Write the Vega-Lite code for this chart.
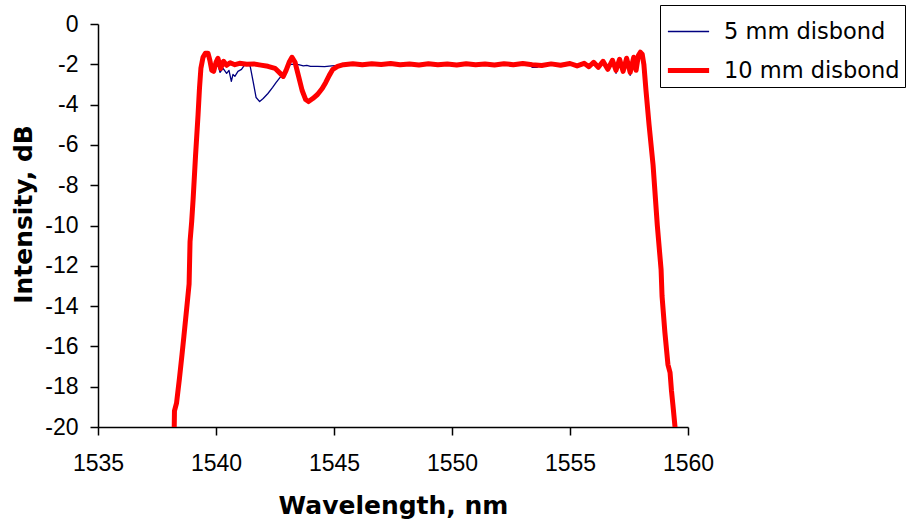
{
  "$schema": "https://vega.github.io/schema/vega-lite/v6.json",
  "width": 590,
  "height": 403,
  "autosize": "none",
  "padding": {"left": 98, "top": 24, "right": 221, "bottom": 104},
  "background": "white",
  "config": {
    "view": {"stroke": null},
    "axis": {
      "grid": false,
      "labelFlush": false,
      "domainColor": "black",
      "domainWidth": 1.5,
      "tickColor": "black",
      "tickWidth": 1.5,
      "tickSize": 8,
      "labelFont": "Liberation Sans",
      "labelFontSize": 23,
      "labelColor": "black",
      "titleFont": "DejaVu Sans",
      "titleFontSize": 25,
      "titleFontWeight": "bold",
      "titleColor": "black"
    }
  },
  "data": {
    "values": [
      {"s": "5 mm disbond", "x": 1538.23, "y": -20},
      {"s": "5 mm disbond", "x": 1538.24, "y": -19.2},
      {"s": "5 mm disbond", "x": 1538.33, "y": -18.8},
      {"s": "5 mm disbond", "x": 1538.45, "y": -17.6},
      {"s": "5 mm disbond", "x": 1538.56, "y": -16.4},
      {"s": "5 mm disbond", "x": 1538.64, "y": -15.5},
      {"s": "5 mm disbond", "x": 1538.76, "y": -14.1},
      {"s": "5 mm disbond", "x": 1538.86, "y": -12.9},
      {"s": "5 mm disbond", "x": 1538.9, "y": -10.8},
      {"s": "5 mm disbond", "x": 1538.97, "y": -9.8},
      {"s": "5 mm disbond", "x": 1539.03, "y": -8.7},
      {"s": "5 mm disbond", "x": 1539.13, "y": -6.6},
      {"s": "5 mm disbond", "x": 1539.24, "y": -4.5},
      {"s": "5 mm disbond", "x": 1539.3, "y": -3.2},
      {"s": "5 mm disbond", "x": 1539.36, "y": -2.2},
      {"s": "5 mm disbond", "x": 1539.45, "y": -1.65},
      {"s": "5 mm disbond", "x": 1539.55, "y": -1.45},
      {"s": "5 mm disbond", "x": 1539.66, "y": -1.45},
      {"s": "5 mm disbond", "x": 1539.74, "y": -1.8},
      {"s": "5 mm disbond", "x": 1539.82, "y": -2.2},
      {"s": "5 mm disbond", "x": 1539.95, "y": -2.0},
      {"s": "5 mm disbond", "x": 1540.1, "y": -2.1},
      {"s": "5 mm disbond", "x": 1540.17, "y": -2.4},
      {"s": "5 mm disbond", "x": 1540.3, "y": -2.2},
      {"s": "5 mm disbond", "x": 1540.45, "y": -2.45},
      {"s": "5 mm disbond", "x": 1540.55, "y": -2.3},
      {"s": "5 mm disbond", "x": 1540.65, "y": -2.85},
      {"s": "5 mm disbond", "x": 1540.72, "y": -2.5},
      {"s": "5 mm disbond", "x": 1540.8, "y": -2.6},
      {"s": "5 mm disbond", "x": 1540.93, "y": -2.35},
      {"s": "5 mm disbond", "x": 1541.08, "y": -2.25},
      {"s": "5 mm disbond", "x": 1541.2, "y": -2.05},
      {"s": "5 mm disbond", "x": 1541.33, "y": -1.95},
      {"s": "5 mm disbond", "x": 1541.45, "y": -2.1},
      {"s": "5 mm disbond", "x": 1541.58, "y": -2.9},
      {"s": "5 mm disbond", "x": 1541.7, "y": -3.65},
      {"s": "5 mm disbond", "x": 1541.85, "y": -3.85},
      {"s": "5 mm disbond", "x": 1542.0, "y": -3.7},
      {"s": "5 mm disbond", "x": 1542.2, "y": -3.45},
      {"s": "5 mm disbond", "x": 1542.4, "y": -3.15},
      {"s": "5 mm disbond", "x": 1542.55, "y": -2.9},
      {"s": "5 mm disbond", "x": 1542.75, "y": -2.6},
      {"s": "5 mm disbond", "x": 1542.95, "y": -2.3},
      {"s": "5 mm disbond", "x": 1543.15, "y": -2.0},
      {"s": "5 mm disbond", "x": 1543.35, "y": -2.0},
      {"s": "5 mm disbond", "x": 1543.5, "y": -2.02},
      {"s": "5 mm disbond", "x": 1543.7, "y": -2.08},
      {"s": "5 mm disbond", "x": 1543.85, "y": -2.05},
      {"s": "5 mm disbond", "x": 1544.0, "y": -2.1},
      {"s": "5 mm disbond", "x": 1544.3, "y": -2.1},
      {"s": "5 mm disbond", "x": 1544.6, "y": -2.12},
      {"s": "5 mm disbond", "x": 1544.9, "y": -2.08},
      {"s": "5 mm disbond", "x": 1545.2, "y": -2.05},
      {"s": "5 mm disbond", "x": 1545.6, "y": -2.0},
      {"s": "5 mm disbond", "x": 1547.0, "y": -2.0},
      {"s": "5 mm disbond", "x": 1549.0, "y": -2.0},
      {"s": "5 mm disbond", "x": 1551.0, "y": -2.0},
      {"s": "5 mm disbond", "x": 1553.2, "y": -2.0},
      {"s": "5 mm disbond", "x": 1553.4, "y": -2.15},
      {"s": "5 mm disbond", "x": 1553.6, "y": -2.15},
      {"s": "5 mm disbond", "x": 1553.75, "y": -2.05},
      {"s": "5 mm disbond", "x": 1555.0, "y": -1.96},
      {"s": "5 mm disbond", "x": 1555.3, "y": -2.08},
      {"s": "5 mm disbond", "x": 1555.6, "y": -1.95},
      {"s": "5 mm disbond", "x": 1555.8, "y": -2.12},
      {"s": "5 mm disbond", "x": 1556.0, "y": -1.9},
      {"s": "5 mm disbond", "x": 1556.2, "y": -2.15},
      {"s": "5 mm disbond", "x": 1556.4, "y": -1.85},
      {"s": "5 mm disbond", "x": 1556.6, "y": -2.3},
      {"s": "5 mm disbond", "x": 1556.8, "y": -1.8},
      {"s": "5 mm disbond", "x": 1556.95, "y": -2.45},
      {"s": "5 mm disbond", "x": 1557.1, "y": -1.75},
      {"s": "5 mm disbond", "x": 1557.25, "y": -2.35},
      {"s": "5 mm disbond", "x": 1557.4, "y": -1.7},
      {"s": "5 mm disbond", "x": 1557.55, "y": -2.55},
      {"s": "5 mm disbond", "x": 1557.7, "y": -1.65},
      {"s": "5 mm disbond", "x": 1557.8, "y": -2.3},
      {"s": "5 mm disbond", "x": 1557.9, "y": -1.55},
      {"s": "5 mm disbond", "x": 1557.98, "y": -1.4},
      {"s": "5 mm disbond", "x": 1558.06, "y": -1.5},
      {"s": "5 mm disbond", "x": 1558.13, "y": -2.0},
      {"s": "5 mm disbond", "x": 1558.22, "y": -3.3},
      {"s": "5 mm disbond", "x": 1558.35, "y": -5.0},
      {"s": "5 mm disbond", "x": 1558.52, "y": -7.0},
      {"s": "5 mm disbond", "x": 1558.7, "y": -10.0},
      {"s": "5 mm disbond", "x": 1558.86, "y": -12.2},
      {"s": "5 mm disbond", "x": 1558.9, "y": -13.5},
      {"s": "5 mm disbond", "x": 1559.02, "y": -15.3},
      {"s": "5 mm disbond", "x": 1559.15, "y": -16.9},
      {"s": "5 mm disbond", "x": 1559.24, "y": -17.3},
      {"s": "5 mm disbond", "x": 1559.3, "y": -18.2},
      {"s": "5 mm disbond", "x": 1559.36, "y": -18.9},
      {"s": "5 mm disbond", "x": 1559.45, "y": -20},

      {"s": "10 mm disbond", "x": 1538.23, "y": -20},
      {"s": "10 mm disbond", "x": 1538.24, "y": -19.2},
      {"s": "10 mm disbond", "x": 1538.33, "y": -18.8},
      {"s": "10 mm disbond", "x": 1538.45, "y": -17.6},
      {"s": "10 mm disbond", "x": 1538.56, "y": -16.4},
      {"s": "10 mm disbond", "x": 1538.64, "y": -15.5},
      {"s": "10 mm disbond", "x": 1538.76, "y": -14.1},
      {"s": "10 mm disbond", "x": 1538.86, "y": -12.9},
      {"s": "10 mm disbond", "x": 1538.9, "y": -10.8},
      {"s": "10 mm disbond", "x": 1538.97, "y": -9.8},
      {"s": "10 mm disbond", "x": 1539.03, "y": -8.7},
      {"s": "10 mm disbond", "x": 1539.13, "y": -6.6},
      {"s": "10 mm disbond", "x": 1539.24, "y": -4.5},
      {"s": "10 mm disbond", "x": 1539.3, "y": -3.2},
      {"s": "10 mm disbond", "x": 1539.36, "y": -2.2},
      {"s": "10 mm disbond", "x": 1539.45, "y": -1.65},
      {"s": "10 mm disbond", "x": 1539.55, "y": -1.45},
      {"s": "10 mm disbond", "x": 1539.66, "y": -1.45},
      {"s": "10 mm disbond", "x": 1539.74, "y": -1.8},
      {"s": "10 mm disbond", "x": 1539.82, "y": -2.3},
      {"s": "10 mm disbond", "x": 1539.9, "y": -2.35},
      {"s": "10 mm disbond", "x": 1540.0, "y": -1.9},
      {"s": "10 mm disbond", "x": 1540.08, "y": -1.7},
      {"s": "10 mm disbond", "x": 1540.2, "y": -2.2},
      {"s": "10 mm disbond", "x": 1540.32, "y": -1.85},
      {"s": "10 mm disbond", "x": 1540.45, "y": -2.05},
      {"s": "10 mm disbond", "x": 1540.6, "y": -1.92},
      {"s": "10 mm disbond", "x": 1540.8, "y": -2.02},
      {"s": "10 mm disbond", "x": 1541.0, "y": -1.95},
      {"s": "10 mm disbond", "x": 1541.3, "y": -2.0},
      {"s": "10 mm disbond", "x": 1541.6, "y": -1.98},
      {"s": "10 mm disbond", "x": 1541.9, "y": -2.04},
      {"s": "10 mm disbond", "x": 1542.2, "y": -2.1},
      {"s": "10 mm disbond", "x": 1542.5, "y": -2.2},
      {"s": "10 mm disbond", "x": 1542.72, "y": -2.45},
      {"s": "10 mm disbond", "x": 1542.85, "y": -2.6},
      {"s": "10 mm disbond", "x": 1542.97, "y": -2.3},
      {"s": "10 mm disbond", "x": 1543.1, "y": -1.9},
      {"s": "10 mm disbond", "x": 1543.22, "y": -1.65},
      {"s": "10 mm disbond", "x": 1543.35, "y": -1.9},
      {"s": "10 mm disbond", "x": 1543.5, "y": -2.6},
      {"s": "10 mm disbond", "x": 1543.65, "y": -3.3},
      {"s": "10 mm disbond", "x": 1543.8, "y": -3.75},
      {"s": "10 mm disbond", "x": 1543.92, "y": -3.85},
      {"s": "10 mm disbond", "x": 1544.1, "y": -3.7},
      {"s": "10 mm disbond", "x": 1544.3, "y": -3.5},
      {"s": "10 mm disbond", "x": 1544.5, "y": -3.2},
      {"s": "10 mm disbond", "x": 1544.65, "y": -2.9},
      {"s": "10 mm disbond", "x": 1544.8, "y": -2.55},
      {"s": "10 mm disbond", "x": 1544.95, "y": -2.25},
      {"s": "10 mm disbond", "x": 1545.15, "y": -2.1},
      {"s": "10 mm disbond", "x": 1545.4, "y": -2.02},
      {"s": "10 mm disbond", "x": 1545.8, "y": -1.97},
      {"s": "10 mm disbond", "x": 1546.2, "y": -2.02},
      {"s": "10 mm disbond", "x": 1546.6, "y": -1.97},
      {"s": "10 mm disbond", "x": 1547.0, "y": -2.01},
      {"s": "10 mm disbond", "x": 1547.4, "y": -1.96},
      {"s": "10 mm disbond", "x": 1547.8, "y": -2.02},
      {"s": "10 mm disbond", "x": 1548.2, "y": -1.98},
      {"s": "10 mm disbond", "x": 1548.6, "y": -2.03},
      {"s": "10 mm disbond", "x": 1549.0, "y": -1.97},
      {"s": "10 mm disbond", "x": 1549.4, "y": -2.02},
      {"s": "10 mm disbond", "x": 1549.8, "y": -1.98},
      {"s": "10 mm disbond", "x": 1550.2, "y": -2.03},
      {"s": "10 mm disbond", "x": 1550.6, "y": -1.97},
      {"s": "10 mm disbond", "x": 1551.0, "y": -2.02},
      {"s": "10 mm disbond", "x": 1551.4, "y": -1.98},
      {"s": "10 mm disbond", "x": 1551.8, "y": -2.03},
      {"s": "10 mm disbond", "x": 1552.2, "y": -1.97},
      {"s": "10 mm disbond", "x": 1552.6, "y": -2.02},
      {"s": "10 mm disbond", "x": 1553.0, "y": -1.96},
      {"s": "10 mm disbond", "x": 1553.4, "y": -2.02},
      {"s": "10 mm disbond", "x": 1553.8, "y": -2.06},
      {"s": "10 mm disbond", "x": 1554.2, "y": -1.98},
      {"s": "10 mm disbond", "x": 1554.6, "y": -2.05},
      {"s": "10 mm disbond", "x": 1555.0, "y": -1.96},
      {"s": "10 mm disbond", "x": 1555.3, "y": -2.08},
      {"s": "10 mm disbond", "x": 1555.6, "y": -1.95},
      {"s": "10 mm disbond", "x": 1555.8, "y": -2.12},
      {"s": "10 mm disbond", "x": 1556.0, "y": -1.9},
      {"s": "10 mm disbond", "x": 1556.2, "y": -2.15},
      {"s": "10 mm disbond", "x": 1556.4, "y": -1.85},
      {"s": "10 mm disbond", "x": 1556.6, "y": -2.25},
      {"s": "10 mm disbond", "x": 1556.8, "y": -1.8},
      {"s": "10 mm disbond", "x": 1556.95, "y": -2.3},
      {"s": "10 mm disbond", "x": 1557.1, "y": -1.75},
      {"s": "10 mm disbond", "x": 1557.25, "y": -2.35},
      {"s": "10 mm disbond", "x": 1557.4, "y": -1.7},
      {"s": "10 mm disbond", "x": 1557.55, "y": -2.4},
      {"s": "10 mm disbond", "x": 1557.7, "y": -1.65},
      {"s": "10 mm disbond", "x": 1557.8, "y": -2.3},
      {"s": "10 mm disbond", "x": 1557.9, "y": -1.55},
      {"s": "10 mm disbond", "x": 1557.98, "y": -1.4},
      {"s": "10 mm disbond", "x": 1558.06, "y": -1.5},
      {"s": "10 mm disbond", "x": 1558.13, "y": -2.0},
      {"s": "10 mm disbond", "x": 1558.22, "y": -3.3},
      {"s": "10 mm disbond", "x": 1558.35, "y": -5.0},
      {"s": "10 mm disbond", "x": 1558.52, "y": -7.0},
      {"s": "10 mm disbond", "x": 1558.7, "y": -10.0},
      {"s": "10 mm disbond", "x": 1558.86, "y": -12.2},
      {"s": "10 mm disbond", "x": 1558.9, "y": -13.5},
      {"s": "10 mm disbond", "x": 1559.02, "y": -15.3},
      {"s": "10 mm disbond", "x": 1559.15, "y": -16.9},
      {"s": "10 mm disbond", "x": 1559.24, "y": -17.3},
      {"s": "10 mm disbond", "x": 1559.3, "y": -18.2},
      {"s": "10 mm disbond", "x": 1559.36, "y": -18.9},
      {"s": "10 mm disbond", "x": 1559.45, "y": -20}
    ]
  },
  "mark": {"type": "line", "clip": true, "strokeJoin": "round", "strokeCap": "round"},
  "encoding": {
    "x": {
      "field": "x",
      "type": "quantitative",
      "scale": {"domain": [1535, 1560], "nice": false, "zero": false},
      "axis": {
        "values": [1535, 1540, 1545, 1550, 1555, 1560],
        "labelExpr": "datum.value + ''",
        "title": "Wavelength, nm",
        "labelPadding": 17,
        "titlePadding": 18
      }
    },
    "y": {
      "field": "y",
      "type": "quantitative",
      "scale": {"domain": [-20, 0], "nice": false, "zero": false},
      "axis": {
        "values": [-20, -18, -16, -14, -12, -10, -8, -6, -4, -2, 0],
        "labelExpr": "datum.value + ''",
        "title": "Intensity, dB",
        "titleY": 190,
        "labelPadding": 12,
        "titlePadding": 8
      }
    },
    "color": {
      "field": "s",
      "type": "nominal",
      "sort": ["5 mm disbond", "10 mm disbond"],
      "scale": {"domain": ["5 mm disbond", "10 mm disbond"], "range": ["#000080", "#FF0000"]},
      "legend": {
        "title": null,
        "orient": "none",
        "legendX": 562,
        "legendY": -19,
        "padding": 5,
        "strokeColor": "black",
        "fillColor": "white",
        "symbolType": "stroke",
        "symbolSize": 1700,
        "labelFont": "DejaVu Sans",
        "labelFontSize": 22.5,
        "labelLimit": 400,
        "labelColor": "black",
        "labelOffset": 12,
        "rowPadding": 4
      }
    },
    "strokeWidth": {
      "field": "s",
      "type": "ordinal",
      "sort": ["5 mm disbond", "10 mm disbond"],
      "scale": {"domain": ["5 mm disbond", "10 mm disbond"], "range": [1.3, 5]},
      "legend": {
        "title": null,
        "orient": "none",
        "legendX": 562,
        "legendY": -19,
        "padding": 5,
        "strokeColor": "black",
        "fillColor": "white",
        "symbolType": "stroke",
        "symbolSize": 1700,
        "labelFont": "DejaVu Sans",
        "labelFontSize": 22.5,
        "labelLimit": 400,
        "labelColor": "black",
        "labelOffset": 12,
        "rowPadding": 4
      }
    }
  }
}
